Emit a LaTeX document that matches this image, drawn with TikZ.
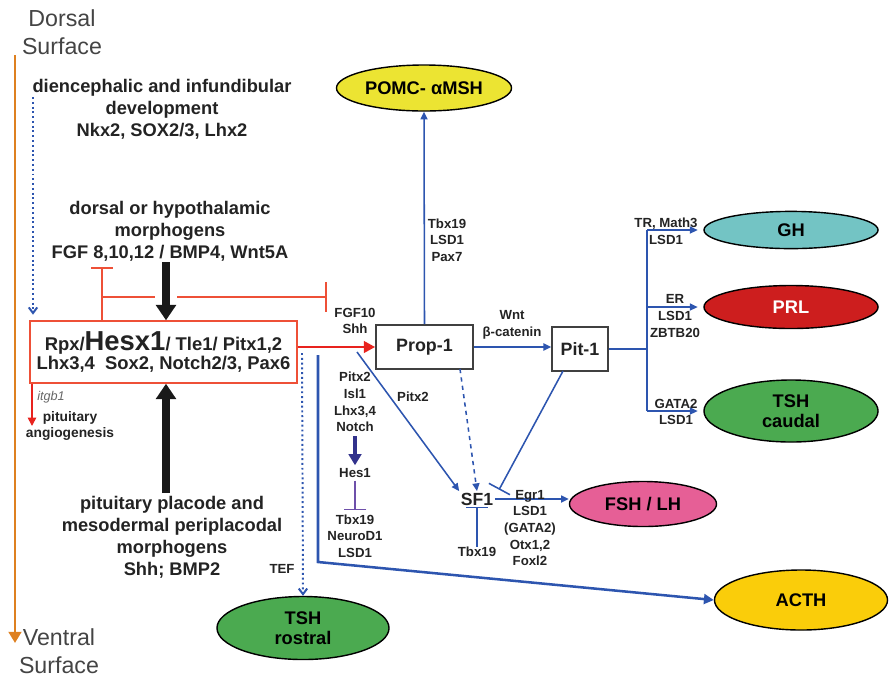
\documentclass[tikz,border=0pt]{standalone}
\usepackage{fontspec}
\setmainfont{Liberation Sans}
\usepackage{tikz}
\usetikzlibrary{arrows.meta, positioning, shapes.geometric}

\definecolor{txt}{RGB}{35,35,35}
\definecolor{axisorange}{RGB}{222,128,32}
\definecolor{pblue}{RGB}{45,85,175}
\definecolor{inhred}{RGB}{238,80,55}
\definecolor{actred}{RGB}{232,35,30}
\definecolor{navy}{RGB}{50,50,140}
\definecolor{violet}{RGB}{110,80,170}
\definecolor{pomcyellow}{RGB}{236,228,50}
\definecolor{ghteal}{RGB}{115,196,196}
\definecolor{prlred}{RGB}{205,30,30}
\definecolor{tshgreen}{RGB}{75,170,80}
\definecolor{fshpink}{RGB}{230,95,150}
\definecolor{acthyellow}{RGB}{250,205,10}

\begin{document}
\begin{tikzpicture}[x=0.025cm, y=-0.025cm,
    lbl/.style={font=\bfseries\fontsize{13}{15.6}\selectfont, text=txt, align=center, inner sep=0pt},
    sml/.style={font=\bfseries\fontsize{9.4}{11.8}\selectfont, text=txt, align=center, inner sep=0pt},
    surf/.style={font=\fontsize{16.5}{20}\selectfont, text=txt!85, align=center, inner sep=0pt},
    hormone/.style={ellipse, draw=black, line width=1pt, inner sep=0pt, align=center,
        font=\bfseries\fontsize{13}{14.5}\selectfont},
    gene/.style={draw=black!75, line width=1.1pt, fill=white, inner sep=0pt,
        font=\bfseries\fontsize{12.7}{14}\selectfont, text=txt},
    flow/.style={draw=pblue, line width=1.1pt, -{Triangle[width=5pt,length=5.5pt]}},
    bigarrow/.style={draw=black!90, line width=5.5pt, -{Triangle[width=14pt,length=11pt]}},
    redinh/.style={draw=inhred, line width=1.2pt},
    dotflow/.style={draw=pblue, line width=1.4pt, dotted, -{Straight Barb[width=6pt,length=4pt]}}]

    \useasboundingbox (0,0) rectangle (891,680);

    \node[surf] (dorsal) at (62,32) {Dorsal\\Surface};
    \node[surf] (ventral) at (59,651) {Ventral\\Surface};
    \coordinate (otop) at (15,55);
    \coordinate (obot) at (15,643);
    \draw[axisorange, line width=2pt, -{Triangle[width=9pt,length=8pt]}] (otop) -- (obot);

    \node[lbl] (dience) at (162,109) {diencephalic and infundibular\\development\\Nkx2, SOX2/3, Lhx2};
    \node[lbl] (dorsmorph) at (170,231) {dorsal or hypothalamic\\morphogens\\FGF 8,10,12 / BMP4, Wnt5A};
    \node[lbl] (placode) at (172,537) {pituitary placode and\\mesodermal periplacodal\\morphogens\\Shh; BMP2};

    \node[draw=inhred, line width=1pt, minimum width=6.675cm, minimum height=1.55cm, inner sep=0pt,
        align=center, text=txt, font=\bfseries\fontsize{13.1}{13.8}\selectfont] (hesx) at (163.5,352)
        {Rpx/{\fontsize{19.5}{20}\selectfont Hesx1}/ Tle1/ Pitx1,2\\Lhx3,4~~Sox2, Notch2/3, Pax6};

    \coordinate (dtop) at (33,97);
    \draw[dotflow, shorten >=4pt] (dtop) -- (dtop |- hesx.north);

    \coordinate (fgfbar) at (102,267);
    \coordinate (redjoint) at (102,297);
    \coordinate (shhbar) at (327,297);
    \draw[redinh, -{Bar[width=15pt]}] (fgfbar |- hesx.north) -- (fgfbar);
    \draw[redinh, -{Bar[width=21pt]}] (redjoint) -- (shhbar);

    \coordinate (downtop) at (166,262);
    \coordinate (uptop) at (166,493);
    \draw[bigarrow, preaction={draw=white, line width=15pt, -}] (downtop) -- (downtop |- hesx.north);
    \draw[bigarrow] (uptop) -- (uptop |- hesx.south);

    \node[anchor=west, inner sep=0pt, font=\itshape\fontsize{9}{10}\selectfont, text=black!60] (itgb) at (37,397) {itgb1};
    \node[sml, font=\bfseries\fontsize{9.8}{12}\selectfont] (angio) at (70,426) {pituitary\\angiogenesis};
    \coordinate (itgbend) at (32,426);
    \draw[actred, line width=1.2pt, -{Triangle[width=6pt,length=6pt]}] (itgbend |- hesx.south) -- (itgbend);

    \node[gene, minimum width=2.425cm, minimum height=1.1cm] (prop) at (424.5,347) {Prop-1};
    \node[gene, minimum width=1.4cm, minimum height=1.1cm] (pit) at (580,349) {Pit-1};

    \node[hormone, fill=pomcyellow, minimum width=4.375cm, minimum height=1.15cm] (pomc) at (424,88) {POMC- αMSH};
    \node[hormone, fill=ghteal, minimum width=4.35cm, minimum height=0.93cm] (gh) at (791,230) {GH};
    \node[hormone, fill=prlred, text=white, minimum width=4.35cm, minimum height=1.075cm] (prl) at (791,307) {PRL};
    \node[hormone, fill=tshgreen, minimum width=4.35cm, minimum height=1.55cm] (tshc) at (791,411) {TSH\\caudal};
    \node[hormone, fill=fshpink, minimum width=3.675cm, minimum height=1.125cm] (fsh) at (643,504) {FSH / LH};
    \node[hormone, fill=acthyellow, minimum width=4.325cm, minimum height=1.5cm] (acth) at (801,600) {ACTH};
    \node[hormone, fill=tshgreen, minimum width=4.3cm, minimum height=1.575cm] (tshr) at (303,628) {TSH\\rostral};

    \draw[actred, line width=2pt, -{Triangle[width=8pt,length=8pt]}] (hesx.east |- prop.west) -- (prop.west);
    \node[sml] (fgfshh) at (355,321) {FGF10\\Shh};

    \draw[flow] (prop.north) -- (pomc.south);
    \node[sml] (tbxpomc) at (447,240) {Tbx19\\LSD1\\Pax7};

    \draw[flow, line width=1.5pt] (prop.east) -- (prop.east -| pit.west);
    \node[sml] (wnt) at (512,325) {Wnt\\β-catenin};

    \coordinate (fork) at (647,349);
    \draw[pblue, line width=2pt] (pit.east |- fork) -- (fork);
    \draw[pblue, line width=1.5pt] (fork |- gh) -- (fork |- tshc);
    \draw[flow, shorten >=4pt] (fork |- gh) -- (gh.west);
    \draw[flow, shorten >=4pt] (fork |- prl) -- (prl.west);
    \draw[flow, shorten >=4pt] (fork |- tshc) -- (tshc.west);
    \node[sml] (trlbl) at (666,231) {TR, Math3\\LSD1};
    \node[sml] (erlbl) at (675,316) {ER\\LSD1\\ZBTB20};
    \node[sml] (gatalbl) at (676,412) {GATA2\\LSD1};

    \node[font=\bfseries\fontsize{12.5}{14}\selectfont, text=txt, inner sep=1pt] (sf) at (477,499) {SF1};
    \coordinate (pxstart) at (357,352);
    \coordinate (dashtop) at (460,369);
    \coordinate (pitbot) at (563,371);
    \draw[flow] (pxstart) -- (sf.north west);
    \node[sml] (pitxlbl) at (413,397) {Pitx2};
    \draw[flow, dashed] (dashtop) -- (sf.north);
    \draw[pblue, line width=1.1pt, -{Bar[width=17pt]}] (pitbot) -- ([xshift=3pt,yshift=1pt]sf.north east);
    \draw[flow] (sf.east) -- (sf.east -| fsh.west);
    \node[sml] (egr) at (530,528) {Egr1\\LSD1\\(GATA2)\\Otx1,2\\Foxl2};
    \node[sml] (tbxsf) at (477,552) {Tbx19};
    \draw[pblue, line width=1.1pt, -{Bar[width=15pt]}] (tbxsf.north) -- (sf.south);

    \node[sml] (pitxcol) at (355,402) {Pitx2\\Isl1\\Lhx3,4\\Notch};
    \node[sml] (hes) at (355,473) {Hes1};
    \node[sml] (tbxcol) at (355,536) {Tbx19\\NeuroD1\\LSD1};
    \draw[navy, line width=2.5pt, -{Triangle[width=9pt,length=8pt]}] ([yshift=-3pt]pitxcol.south) -- ([yshift=2pt]hes.north);
    \draw[violet, line width=1pt, -{Bar[width=16pt]}] ([yshift=-2pt]hes.south) -- ([yshift=3pt]tbxcol.north);

    \coordinate (acthtop) at (318,355);
    \coordinate (acthcorner) at (318,562);
    \draw[pblue, line width=1.8pt, -{Triangle[width=7pt,length=7pt]}] (acthtop) -- (acthcorner) -- (acth.west);

    \coordinate (teftop) at (302,353);
    \draw[dotflow] (teftop) -- (tshr.north);
    \node[sml] (tef) at (282,569) {TEF};
\end{tikzpicture}
\end{document}
